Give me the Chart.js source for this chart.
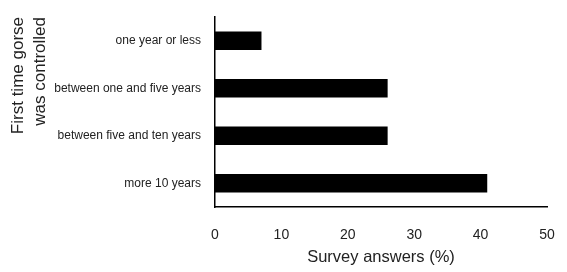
<!DOCTYPE html>
<html>
<head>
<meta charset="utf-8">
<script src="https://cdn.jsdelivr.net/npm/chart.js@4"></script>
<style>
  html, body { margin: 0; padding: 0; background: #fff; }
  #wrap { width: 567px; height: 272px; }
</style>
</head>
<body>
<div id="wrap"><canvas id="chart"></canvas></div>
<script>
// categories (top to bottom) and survey shares in %
const categories = [
  "one year or less",
  "between one and five years",
  "between five and ten years",
  "more 10 years",
];
const answers = [7, 26, 26, 41];
const xTicks = [0, 10, 20, 30, 40, 50];

const ctx = document.getElementById("chart");

new Chart(ctx, {
  type: "bar",
  data: {
    labels: categories,
    datasets: [
      {
        data: answers,
        backgroundColor: "#000000",
        barPercentage: 0.39,
        categoryPercentage: 1,
      },
    ],
  },
  options: {
    indexAxis: "y",
    responsive: true,
    maintainAspectRatio: false,
    animation: false,
    layout: { padding: { top: 17, right: 20, left: 0, bottom: 0 } },
    plugins: {
      legend: { display: false },
      tooltip: { enabled: false },
    },
    scales: {
      x: {
        min: 0,
        max: 50,
        afterBuildTicks: (scale) => {
          scale.ticks = xTicks.map((v) => ({ value: v }));
        },
        afterFit: (scale) => {
          scale.height = 65;
        },
        grid: { display: false },
        border: { display: true, color: "#000", width: 1.5 },
        ticks: {
          color: "#222",
          padding: 12,
          font: { family: "Liberation Sans", size: 14 },
          maxRotation: 0,
        },
        title: {
          display: true,
          text: "Survey answers (%)",
          color: "#222",
          font: { family: "Liberation Sans", size: 16.5 },
          padding: { top: 0, bottom: 5 },
        },
      },
      y: {
        afterFit: (scale) => {
          scale.width = 215;
        },
        grid: { display: false },
        border: { display: true, color: "#000", width: 1.5 },
        ticks: {
          color: "#222",
          padding: 6,
          font: { family: "Liberation Sans", size: 12 },
        },
        title: {
          display: true,
          text: ["First time gorse", "was controlled"],
          align: "end",
          color: "#222",
          font: { family: "Liberation Sans", size: 17, lineHeight: 1.3 },
          padding: { top: 7, bottom: 0 },
        },
      },
    },
  },
});
</script>
</body>
</html>
